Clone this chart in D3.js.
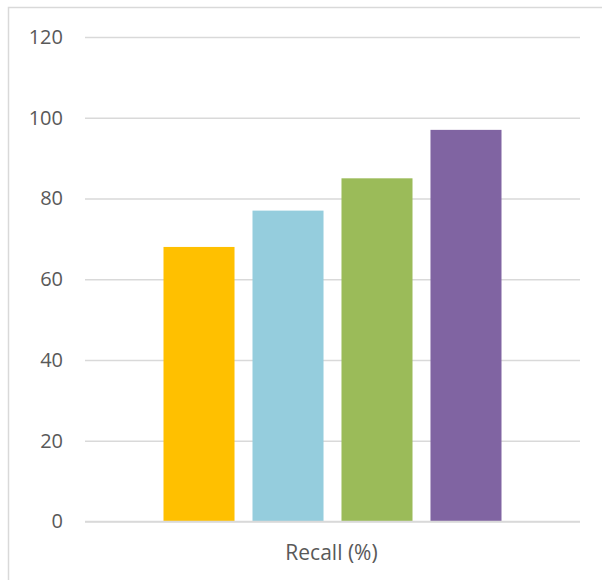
<!DOCTYPE html>
<html><head><meta charset="utf-8">
<script src="https://cdn.jsdelivr.net/npm/d3@7"></script>
<style>html,body{margin:0;padding:0;background:#fff;overflow:hidden}</style>
</head><body>
<svg id="c" width="602" height="580"></svg>
<script>
const series = ["S1", "S2", "S3", "S4"];
const values = [68, 77, 85, 97];
const colors = ["#FFC000", "#95CDDD", "#9BBB59", "#8064A2"];
const yTicks = [0, 20, 40, 60, 80, 100, 120];
const categoryLabel = "Recall (%)";

const svg = d3.select("#c");
const plot = {left: 85, right: 580, top: 37, bottom: 521.5};

// chart area border (top + left visible)
svg.append("path").attr("d", "M8.5,700 L8.5,7.5 L700,7.5")
  .attr("fill", "none").attr("stroke", "#D9D9D9").attr("stroke-width", 1.5);

const y = d3.scaleLinear().domain([0, 120]).range([plot.bottom, plot.top]);
const outer = 78.5;
const x = d3.scaleBand().domain(series)
  .range([plot.left + outer, plot.right - outer]).paddingInner(0.202).paddingOuter(0);

const yAxis = d3.axisLeft(y).tickValues(yTicks).tickSize(-(plot.right - plot.left)).tickPadding(22);
const g = svg.append("g").attr("transform", `translate(${plot.left},0)`).call(yAxis);
g.select(".domain").remove();
g.selectAll(".tick line").attr("stroke", "#D9D9D9").attr("stroke-width", 1.5);
g.selectAll(".tick text").attr("fill", "#595959")
  .style("font-family", "'Open Sans', sans-serif").style("font-size", "20px");

svg.selectAll("rect.bar").data(values).join("rect").attr("class", "bar")
  .attr("x", (d, i) => x(series[i]))
  .attr("width", x.bandwidth())
  .attr("y", d => y(d))
  .attr("height", d => y(0) - y(d))
  .attr("fill", (d, i) => colors[i]);

// baseline drawn over bars
svg.append("line").attr("x1", plot.left).attr("x2", plot.right)
  .attr("y1", y(0)).attr("y2", y(0)).attr("stroke", "#D9D9D9").attr("stroke-width", 1.5);

svg.append("text").attr("x", (plot.left + plot.right) / 2 - 1).attr("y", 560)
  .attr("text-anchor", "middle").attr("fill", "#595959")
  .style("font-family", "'Open Sans', sans-serif").style("font-size", "21px")
  .text(categoryLabel);
</script>
</body></html>
